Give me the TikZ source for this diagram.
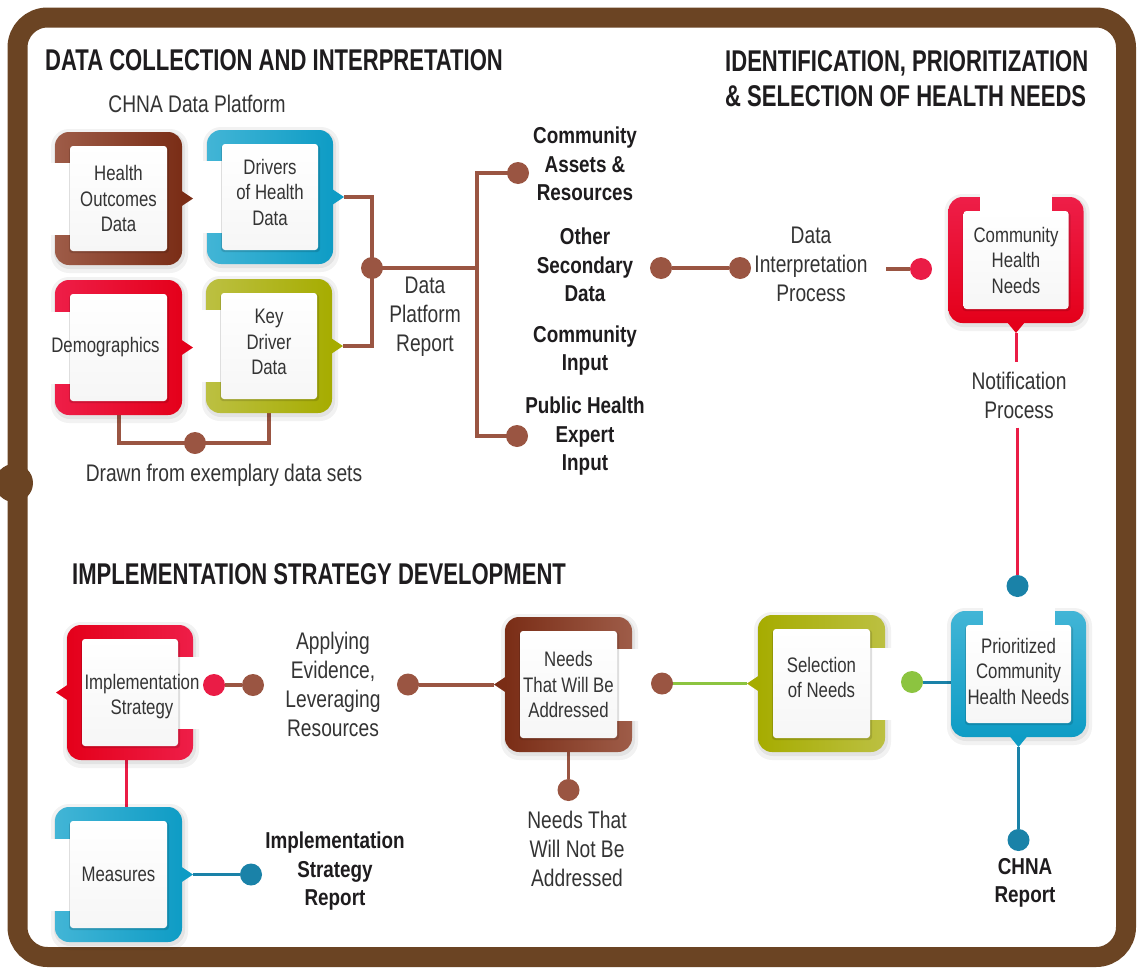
\documentclass[tikz,border=0pt]{standalone}
\usepackage{fontspec}
\setmainfont{Liberation Sans}[FakeStretch=0.8]
\newfontfamily\boldfnt{Liberation Sans}[FakeStretch=0.82]
\newfontfamily\titlefnt{Liberation Sans}[FakeStretch=0.735]
\definecolor{frameBrown}{RGB}{107,68,35}
\definecolor{brownL}{RGB}{158,92,72}
\definecolor{brownD}{RGB}{122,45,22}
\definecolor{blueL}{RGB}{66,181,214}
\definecolor{blueD}{RGB}{14,156,197}
\definecolor{redL}{RGB}{238,30,72}
\definecolor{redD}{RGB}{228,0,26}
\definecolor{oliveL}{RGB}{188,192,66}
\definecolor{oliveD}{RGB}{166,172,0}
\definecolor{connBrown}{RGB}{154,85,66}
\definecolor{connRed}{RGB}{234,28,70}
\definecolor{connTeal}{RGB}{26,130,168}
\definecolor{connGreen}{RGB}{140,196,64}
\definecolor{txtgray}{RGB}{52,52,52}
\definecolor{txtdark}{RGB}{30,28,30}
\pgfdeclarelayer{back}
\pgfdeclarelayer{bg}
\pgfsetlayers{back,bg,main}
\tikzset{
  boxtxt/.style={align=center, font=\fontsize{21}{25.5}\selectfont, text=txtgray, inner sep=0pt},
  lbl/.style={align=center, font=\fontsize{24}{29}\selectfont, text=txtgray, inner sep=0pt},
  blbl/.style={align=center, font=\boldfnt\bfseries\fontsize{23}{28.5}\selectfont, text=txtdark, inner sep=0pt},
  ttl/.style={align=left, font=\titlefnt\bfseries\fontsize{30}{35}\selectfont, text=txtdark, inner sep=0pt, anchor=west},
  dot/.style={circle, minimum size=22pt, inner sep=0pt},
  bconn/.style={draw=connBrown, line width=4pt},
  rconn/.style={draw=connRed, line width=3pt},
  tconn/.style={draw=connTeal, line width=3pt},
  gconn/.style={draw=connGreen, line width=3.5pt},
}
\def\txs{0}\def\tys{0}
% #1 name, #2 center, #3 half width, #4 half height, #5 shading, #6 pointer colour, #7 gap side, #8 pointer side, #9 text
\newcommand\mybox[9]{%
\begin{scope}[shift={(#2)}]
 \fill[black,opacity=.05,rounded corners=18pt] (-#3-4,-#4-3) rectangle (#3+6,#4+8);
 \fill[black,opacity=.06,rounded corners=16pt] (-#3-1,-#4) rectangle (#3+3,#4+4);
 \shade[#5,rounded corners=14pt] (-#3,-#4) rectangle (#3,#4);
 \ifx L#7\fill[white] (-#3-9,-36) rectangle (-#3+15.5,36);\fi
 \ifx R#7\fill[white] (#3-15.5,-36) rectangle (#3+9,36);\fi
 \ifx T#7\fill[white] (-36,-#4-9) rectangle (36,-#4+14.5);\fi
 \ifx R#8\fill[#6] (#3-1,-8) -- (#3+11,0) -- (#3-1,8) -- cycle;\coordinate (#1-p) at (#3+11,0);\fi
 \ifx L#8\fill[#6] (-#3+1,-8) -- (-#3-11,0) -- (-#3+1,8) -- cycle;\coordinate (#1-p) at (-#3-11,0);\fi
 \ifx B#8\fill[#6] (-9,#4-1) -- (0,#4+10) -- (9,#4-1) -- cycle;\coordinate (#1-p) at (0,#4+10);\fi
 \fill[black,opacity=.13,rounded corners=3pt] (-#3+14,-#4+15) rectangle (#3-13,#4-12);
 \shade[top color=white,bottom color=gray!7,rounded corners=3pt] (-#3+15,-#4+14) rectangle (#3-15,#4-14);
 \coordinate (#1-l) at (-#3,0); \coordinate (#1-r) at (#3,0);
 \coordinate (#1-t) at (0,-#4); \coordinate (#1-b) at (0,#4);
 \node[boxtxt] (#1) at (\txs,\tys) {#9};
\end{scope}\def\txs{0}\def\tys{0}}
\begin{document}
\begin{tikzpicture}[x=1pt,y=-1pt]
\useasboundingbox (0,0) rectangle (1138,969);
\begin{pgfonlayer}{back}
\fill[white] (0,0) rectangle (1138,969);
\draw[line width=20pt, frameBrown, rounded corners=30pt] (17.5,17.5) rectangle (1126,957);
\fill[frameBrown] (14,483) circle (19);
\end{pgfonlayer}

% titles
\node[ttl] (t1) at (45,60) {DATA COLLECTION AND INTERPRETATION};
\node[ttl] (t2) at (725,79) {IDENTIFICATION, PRIORITIZATION\\\& SELECTION OF HEALTH NEEDS};
\node[ttl] (t3) at (72,574) {IMPLEMENTATION STRATEGY DEVELOPMENT};

% boxes
\mybox{ho}{118.5,198.5}{63.5}{66.5}{left color=brownL,right color=brownD}{brownD}{L}{R}{Health\\Outcomes\\Data}
\def\tys{-5}
\mybox{dr}{270,197}{63}{67}{left color=blueL,right color=blueD}{blueD}{L}{R}{Drivers\\of Health\\Data}
\def\txs{-13}
\mybox{dm}{118.5,347.5}{63.5}{67.5}{left color=redL,right color=redD}{redD}{L}{R}{Demographics}
\def\tys{-4}
\mybox{kd}{269,346}{63}{67}{left color=oliveL,right color=oliveD}{oliveD}{L}{R}{Key\\Driver\\Data}
\mybox{chn}{1016,260}{67.5}{63}{top color=redL,bottom color=redD}{redD}{T}{B}{Community\\Health\\Needs}
\def\tys{-3}
\mybox{pch}{1018.5,674}{67.5}{63}{top color=blueL,bottom color=blueD}{blueD}{T}{B}{Prioritized\\Community\\Health Needs}
\def\tys{-6}
\mybox{sel}{821.5,683.5}{63.5}{68.5}{left color=oliveD,right color=oliveL}{oliveD}{R}{L}{Selection\\of Needs}
\mybox{nwa}{568.5,684.5}{63.5}{67.5}{left color=brownD,right color=brownL}{brownD}{R}{L}{Needs\\That Will Be\\Addressed}
\def\txs{12}\def\tys{4}
\mybox{is}{130,692.5}{63}{67.5}{left color=redD,right color=redL}{redD}{R}{L}{Implementation\\Strategy}
\mybox{ms}{118.5,874.5}{63.5}{67.5}{left color=blueL,right color=blueD}{blueD}{L}{R}{Measures}

% labels
\node[lbl] (cdp) at (197,104) {CHNA Data Platform};
\node[lbl] (dfe) at (224,475) {Drawn from exemplary data sets};
\node[lbl] (dpr) at (425,317) {Data\\Platform\\Report};
\node[blbl] (car) at (585,164) {Community\\Assets \&\\Resources};
\node[blbl] (osd) at (585,265) {Other\\Secondary\\Data};
\node[blbl] (ci) at (585,350.5) {Community\\Input};
\node[blbl] (phe) at (585,436.5) {Public Health\\Expert\\Input};
\node[lbl] (dip) at (811,264) {Data\\Interpretation\\Process};
\node[lbl, inner ysep=9pt] (np) at (1019,395) {Notification\\Process};
\node[blbl] (cr) at (1025,883) {CHNA\\Report};
\node[lbl] (nwn) at (577,848.5) {Needs That\\Will Not Be\\Addressed};
\node[lbl] (ae) at (333,684.5) {Applying\\Evidence,\\Leveraging\\Resources};
\node[blbl] (isr) at (335,871.5) {Implementation\\Strategy\\Report};

% dots
\node[dot, fill=connBrown] (j1) at (372,268) {};
\node[dot, fill=connBrown] (ta) at (518,173) {};
\node[dot, fill=connBrown] (tb) at (517,436) {};
\node[dot, fill=connBrown] (d3) at (661,268) {};
\node[dot, fill=connBrown] (d4) at (740,268) {};
\node[dot, fill=connRed] (d5) at (921,269) {};
\node[dot, fill=connBrown] (j2) at (195,443) {};
\node[dot, fill=connTeal] (d6) at (1017.5,586) {};
\node[dot, fill=connTeal] (d7) at (1018.5,840) {};
\node[dot, fill=connGreen] (d8) at (912,682) {};
\node[dot, fill=connBrown] (d9) at (662,683.5) {};
\node[dot, fill=connBrown] (d10) at (408,684.5) {};
\node[dot, fill=connBrown] (d11) at (568.5,790) {};
\node[dot, fill=connBrown] (d12) at (253,685) {};
\node[dot, fill=connRed] (d13) at (214,685) {};
\node[dot, fill=connTeal] (d14) at (251,874.5) {};
\coordinate (br) at (477,268);
\coordinate (e1) at (886,269);

% connectors
\begin{pgfonlayer}{bg}
\draw[bconn] (dr-p) -| (j1.center) |- (kd-p);
\draw[bconn] (j1.center) -- (br);
\draw[bconn] (ta.center) -| (br) |- (tb.center);
\draw[bconn] (d3) -- (d4);
\draw[bconn] (e1) -- (d5);
\draw[bconn] (dm-b) |- (j2.center) -| (kd-b);
\draw[rconn] (chn-p) -- (chn-p |- np.north);
\draw[rconn] (np.south -| d6) -- (d6);
\draw[tconn] (pch-p) -- (d7);
\draw[tconn] (d8) -- (d8 -| pch-l);
\draw[gconn] (sel-p) -- (d9);
\draw[bconn] (nwa-p) -- (d10);
\draw[bconn, line width=3pt] (nwa-b) -- (d11);
\draw[bconn] (d13) -- (d12);
\draw[rconn] ([xshift=-4pt]is-b) -- ([xshift=-4pt]is-b |- ms-t);
\draw[tconn] (ms-p) -- (d14);
\end{pgfonlayer}
\end{tikzpicture}
\end{document}
